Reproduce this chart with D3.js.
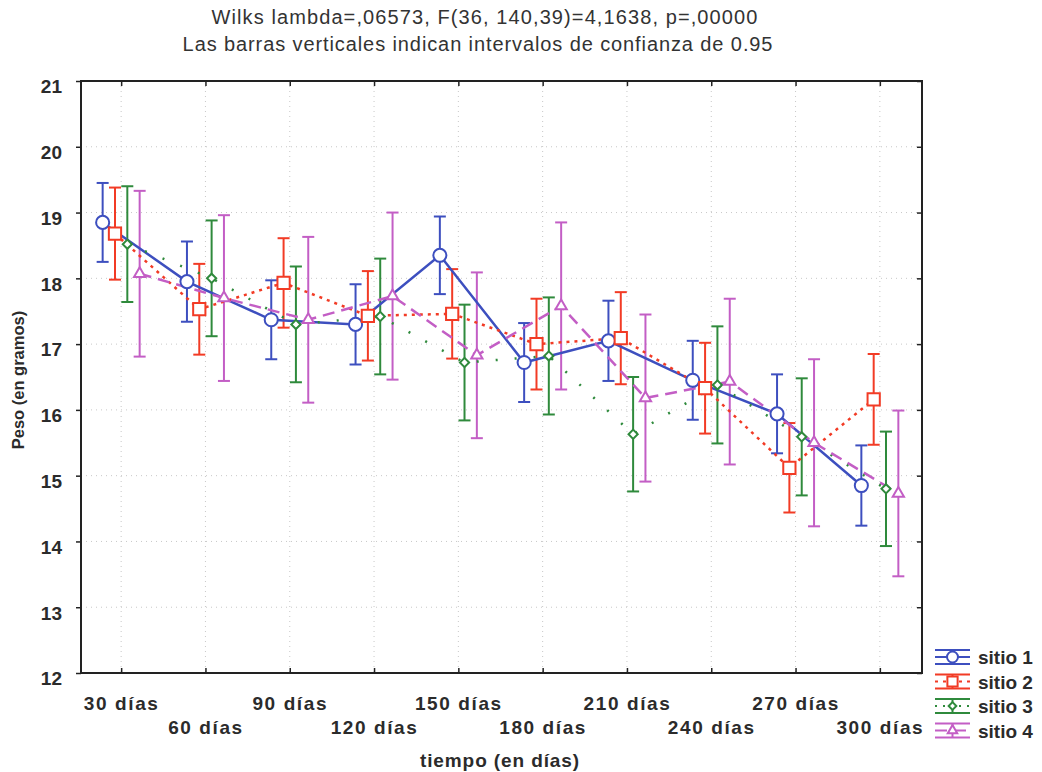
<!DOCTYPE html>
<html lang="es">
<head>
<meta charset="UTF-8">
<title>Peso por sitio</title>
<script src="https://cdn.jsdelivr.net/npm/d3@7"></script>
<style>
  body { margin: 0; background: #fff; }
  svg text { font-family: "Liberation Sans", Arial, sans-serif; }
  .axis path { display: none; }
  .axis line { stroke: #222; stroke-width: 1.5; }
  .axis text { font-size: 19px; font-weight: bold; fill: #2b2b2b; }
  .grid line { stroke: #c8c8c8; stroke-width: 1; stroke-dasharray: 1,4; }
</style>
</head>
<body>
<svg id="chart" width="1042" height="772"></svg>
<script>
// categorias y series
const dias = ["30 días", "60 días", "90 días", "120 días", "150 días",
              "180 días", "210 días", "240 días", "270 días", "300 días"];
const sitios = ["sitio 1", "sitio 2", "sitio 3", "sitio 4"];

const media1 = [18.85, 17.95, 17.37, 17.30, 18.35, 16.72, 17.05, 16.45, 15.94, 14.85];
const media2 = [18.68, 17.53, 17.93, 17.43, 17.46, 17.00, 17.09, 16.33, 15.12, 16.16];
const media3 = [18.52, 18.00, 17.30, 17.42, 16.72, 16.82, 15.63, 16.38, 15.59, 14.80];
const media4 = [18.07, 17.70, 17.37, 17.73, 16.83, 17.58, 16.18, 16.43, 15.50, 14.73];

// semiamplitud del intervalo de confianza 0.95
const ic1 = [0.60, 0.61, 0.60, 0.61, 0.59, 0.60, 0.61, 0.60, 0.60, 0.61];
const ic2 = [0.70, 0.69, 0.68, 0.68, 0.68, 0.69, 0.70, 0.69, 0.68, 0.69];
const ic3 = [0.88, 0.88, 0.88, 0.88, 0.88, 0.89, 0.87, 0.89, 0.89, 0.87];
const ic4 = [1.26, 1.26, 1.26, 1.27, 1.26, 1.27, 1.27, 1.26, 1.27, 1.26];

const yTicks = [12, 13, 14, 15, 16, 17, 18, 19, 20, 21];

const titulo1 = "Wilks lambda=,06573, F(36, 140,39)=4,1638, p=,00000";
const titulo2 = "Las barras verticales indican intervalos de confianza de 0.95";

const medias = [media1, media2, media3, media4];
const ics = [ic1, ic2, ic3, ic4];
const colores = ["#3d4fbf", "#f23b25", "#2f8a3c", "#c35ec5"];
const trazos = [null, "3,5", "2,17", "12,7"];
const simbolos = [d3.symbolCircle, d3.symbolSquare, d3.symbolSquare, d3.symbolTriangle];
const tamanos = [135, 150, 42, 55];
const giros = [0, 0, 45, 0];

const mLeft = 81, mRight = 922, mTop = 81, mBottom = 673;
const svg = d3.select("#chart");

const x = d3.scalePoint().domain(dias).range([79, 922]).padding(0.5);
const y = d3.scaleLinear().domain([12, 21]).range([mBottom, mTop]);
const off = d3.scalePoint().domain(sitios).range([-18.5, 18.5]);

// titulos
svg.append("text").attr("x", 485).attr("y", 24).attr("text-anchor", "middle")
    .style("font-size", "20px").style("letter-spacing", "1.1px").attr("fill", "#333")
    .text(titulo1);
svg.append("text").attr("x", 478).attr("y", 51).attr("text-anchor", "middle")
    .style("font-size", "20px").style("letter-spacing", "0.9px").attr("fill", "#333")
    .text(titulo2);

// rejilla punteada
const grid = svg.append("g").attr("class", "grid");
grid.selectAll(".gy").data(yTicks.slice(1, -1)).enter().append("line")
    .attr("x1", mLeft).attr("x2", mRight)
    .attr("y1", d => y(d)).attr("y2", d => y(d));
grid.selectAll(".gx").data(dias).enter().append("line")
    .attr("x1", d => x(d)).attr("x2", d => x(d))
    .attr("y1", mTop).attr("y2", mBottom);

// ejes
svg.append("g").attr("class", "axis")
    .attr("transform", "translate(" + mLeft + ",0)")
    .call(d3.axisLeft(y).tickValues(yTicks).tickSize(5).tickPadding(14))
    .selectAll("text").attr("dy", "0.62em");

svg.append("g").attr("class", "axis")
    .attr("transform", "translate(" + mRight + ",0)")
    .call(d3.axisRight(y).tickValues(yTicks).tickSize(-5).tickFormat(""));

svg.append("g").attr("class", "axis")
    .attr("transform", "translate(0," + mTop + ")")
    .call(d3.axisTop(x).tickSize(-5).tickFormat(""));

svg.append("g").attr("class", "axis")
    .attr("transform", "translate(0," + mBottom + ")")
    .call(d3.axisBottom(x).tickSize(-5))
    .selectAll("text")
    .attr("dy", 0)
    .attr("y", (d, i) => i % 2 === 0 ? 37 : 61)
    .style("letter-spacing", "1.6px");

// marco
svg.append("rect").attr("x", mLeft).attr("y", mTop)
    .attr("width", mRight - mLeft).attr("height", mBottom - mTop)
    .attr("fill", "none").attr("stroke", "#222").attr("stroke-width", 2);

// barras de error
sitios.forEach((s, k) => {
    const g = svg.append("g").attr("stroke", colores[k]).attr("stroke-width", 2);
    medias[k].forEach((m, i) => {
        const cx = x(dias[i]) + off(s);
        const y0 = y(m - ics[k][i]), y1 = y(m + ics[k][i]);
        g.append("line").attr("x1", cx).attr("x2", cx).attr("y1", y0).attr("y2", y1);
        g.append("line").attr("x1", cx - 6).attr("x2", cx + 6).attr("y1", y0).attr("y2", y0);
        g.append("line").attr("x1", cx - 6).attr("x2", cx + 6).attr("y1", y1).attr("y2", y1);
    });
});

// lineas
sitios.forEach((s, k) => {
    const line = d3.line()
        .x((d, i) => x(dias[i]) + off(s))
        .y(d => y(d));
    svg.append("path").datum(medias[k])
        .attr("d", line)
        .attr("fill", "none")
        .attr("stroke", colores[k])
        .attr("stroke-width", 2.5)
        .attr("stroke-dasharray", trazos[k]);
});

// marcadores
sitios.forEach((s, k) => {
    svg.append("g").selectAll("path").data(medias[k]).enter().append("path")
        .attr("transform", (d, i) => "translate(" + (x(dias[i]) + off(s)) + "," + y(d) + ") rotate(" + giros[k] + ")")
        .attr("d", d3.symbol(simbolos[k], tamanos[k]))
        .attr("fill", "#fff")
        .attr("stroke", colores[k])
        .attr("stroke-width", 2);
});

// titulos de ejes
svg.append("text").attr("x", 500).attr("y", 767).attr("text-anchor", "middle")
    .style("font-size", "19px").style("font-weight", "bold").style("letter-spacing", "0.9px")
    .attr("fill", "#2b2b2b")
    .text("tiempo (en días)");
svg.append("text").attr("transform", "translate(24,380) rotate(-90)")
    .attr("text-anchor", "middle")
    .style("font-size", "16.5px").style("font-weight", "bold").attr("fill", "#2b2b2b")
    .text("Peso (en gramos)");

// leyenda
const leg = svg.append("g");
sitios.forEach((s, k) => {
    const cy = 657 + k * 24.5;
    const g = leg.append("g").attr("stroke", colores[k]).attr("stroke-width", 2);
    g.append("line").attr("x1", 935).attr("x2", 970).attr("y1", cy - 7).attr("y2", cy - 7);
    g.append("line").attr("x1", 935).attr("x2", 970).attr("y1", cy + 7).attr("y2", cy + 7);
    g.append("line").attr("x1", 952.5).attr("x2", 952.5).attr("y1", cy - 7).attr("y2", cy + 7);
    g.append("line").attr("x1", 935).attr("x2", 970).attr("y1", cy).attr("y2", cy)
        .attr("stroke-dasharray", trazos[k] ? (k === 2 ? "2,6" : trazos[k]) : null);
    g.append("path").attr("transform", "translate(952.5," + cy + ") rotate(" + giros[k] + ")")
        .attr("d", d3.symbol(simbolos[k], tamanos[k] * 0.7))
        .attr("fill", "#fff");
    leg.append("text").attr("x", 978).attr("y", cy + 7)
        .style("font-size", "19px").style("font-weight", "bold").attr("fill", "#2b2b2b")
        .text(s);
});
</script>
</body>
</html>
